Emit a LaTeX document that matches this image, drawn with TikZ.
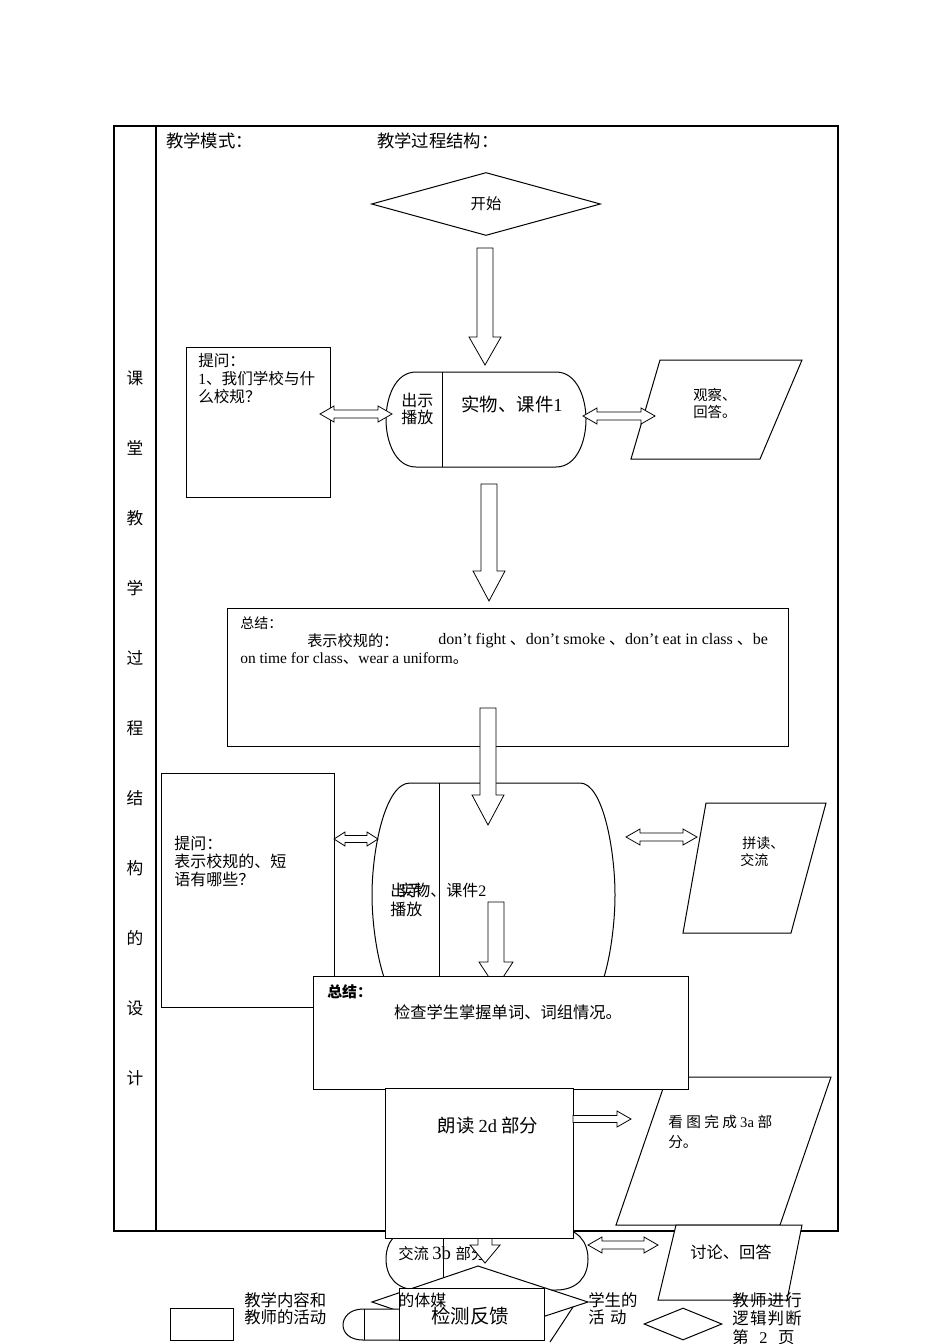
\documentclass[tikz,border=0pt]{standalone}
\usepackage{fontspec}
\setmainfont{Noto Sans CJK SC}
\newfontfamily\lat{Liberation Serif}
\usetikzlibrary{shapes.geometric}
\newcommand\fs[1]{\fontsize{#1pt}{#1pt}\selectfont}
\newcommand\rboxnode[5]{\node[wbox, anchor=north west, minimum width={(#4-#2)*0.75pt}, minimum height={(#5-#3)*0.75pt}] (#1) at (#2,#3) {};}
\newcommand\downarr[6]{\draw[blk] ({#1-#5},#2) -- ({#1+#5},#2) -- ({#1+#5},#3) -- ({#1+#6},#3) -- (#1,#4) -- ({#1-#6},#3) -- ({#1-#5},#3) -- cycle;}
\newcommand\dblarr[6]{\draw[blk] (#1,#3) -- ({#1+#6},{#3-#5}) -- ({#1+#6},{#3-#4}) -- ({#2-#6},{#3-#4}) -- ({#2-#6},{#3-#5}) -- (#2,#3) -- ({#2-#6},{#3+#5}) -- ({#2-#6},{#3+#4}) -- ({#1+#6},{#3+#4}) -- ({#1+#6},{#3+#5}) -- cycle;}
\newcommand\rarr[6]{\draw[blk] (#1,{#3-#4}) -- ({#2-#6},{#3-#4}) -- ({#2-#6},{#3-#5}) -- (#2,#3) -- ({#2-#6},{#3+#5}) -- ({#2-#6},{#3+#4}) -- (#1,{#3+#4}) -- cycle;}
\begin{document}
\begin{tikzpicture}[x=0.75pt, y=-0.75pt,
  ln/.style={line width=0.75pt},
  wbox/.style={draw, fill=white, line width=0.75pt, inner sep=0pt, outer sep=0pt},
  blk/.style={draw, fill=white, line width=0.6pt, line join=miter},
  txt/.style={inner sep=0pt, anchor=west},
  ctxt/.style={inner sep=0pt}]
\useasboundingbox (0,0) rectangle (950,1344);
\fill[white] (0,0) rectangle (950,1344);
% frame
\node[draw, line width=1.4pt, inner sep=0pt, anchor=north west, minimum width={724*0.75pt}, minimum height={1105*0.75pt}] (frame) at (113,125) {};
\coordinate (divtop) at (156,125);
\coordinate (divbot) at (156,1230);
\draw[line width=0.8pt] (divtop) -- (divbot);
\foreach \c [count=\i from 0] in {课,堂,教,学,过,程,结,构,的,设,计}
  \node[ctxt, font=\fs{12.5}] (col\i) at (135,{378+70*\i}) {\c};
\node[txt, font=\fs{13}] (mode) at (166,141) {教学模式：};
\node[txt, font=\fs{13}] (struct) at (377,141) {教学过程结构：};
% start
\node[draw, diamond, line width=0.75pt, inner sep=0pt, minimum width={229*0.75pt}, minimum height={63*0.75pt}, font=\fs{11.5}] (start) at (486,204) {开始};
\downarr{485}{248}{337}{365}{8}{16}
% row 1
\rboxnode{q1}{186}{347}{330}{497}
\node[txt, font=\fs{11.7}] (q1a) at (198,361) {提问：};
\node[txt, font=\fs{11.7}] (q1b) at (198,379) {\lat 1\rmfamily、我们学校与什};
\node[txt, font=\fs{11.7}] (q1c) at (198,397) {么校规？};
\draw[wbox] (416,372) -- (556,372) .. controls (577,372) and (586,398) .. (586,419.5) .. controls (586,441) and (577,467) .. (556,467) -- (416,467) .. controls (395,467) and (386,441) .. (386,419.5) .. controls (386,398) and (395,372) .. (416,372) -- cycle;
\coordinate (s1t) at (442,372);
\coordinate (s1b) at (442,467);
\draw[ln] (s1t) -- (s1b);
\node[txt, font=\fs{12}] (s1a) at (401,400) {出示};
\node[txt, font=\fs{12}] (s1b2) at (401,417) {播放};
\node[ctxt, font=\fs{13.8}] (s1c) at (512,404) {实物、课件\lat 1};
\draw[wbox] (660,360) -- (802,360) -- (760,459) -- (631,459) -- cycle;
\node[txt, font=\fs{10.8}] (obs1) at (693,395) {观察、};
\node[txt, font=\fs{10.8}] (obs2) at (693,412) {回答。};
\dblarr{320}{392}{414}{4}{8}{14}
\dblarr{583}{655}{416}{4}{8}{14}
\downarr{489}{484}{571}{601}{8}{16}
% summary 1
\rboxnode{sum1}{227}{608}{788}{746}
\node[txt, font=\fs{10.5}] (sum1a) at (240,623) {总结：};
\node[txt, font=\fs{11.4}] (sum1b) at (307,641) {表示校规的：};
\node[txt, font=\fs{12}] (sum1c) at (438,641) {\lat don’t fight \rmfamily、\lat don’t smoke \rmfamily、\lat don’t eat in class \rmfamily、\lat be};
\node[txt, font=\fs{11.6}] (sum1d) at (240,659) {\lat on time for class\rmfamily、\lat wear a uniform\rmfamily。};
% row 2
\rboxnode{q2}{161}{773}{334}{1007}
\node[txt, font=\fs{12}] (q2a) at (174,843) {提问：};
\node[txt, font=\fs{12}] (q2b) at (174,861) {表示校规的、短};
\node[txt, font=\fs{12}] (q2c) at (174,879) {语有哪些？};
\draw[wbox] (410,783) -- (580,783) .. controls (603,783) and (615,850) .. (615,895) .. controls (615,940) and (603,1010) .. (580,1010) -- (410,1010) .. controls (385,1010) and (372,940) .. (372,895) .. controls (372,850) and (385,783) .. (410,783) -- cycle;
\coordinate (b2t) at (439,783);
\coordinate (b2b) at (439,1010);
\draw[ln] (b2t) -- (b2b);
\downarr{488}{708}{795}{825}{8}{16}
\node[txt, font=\fs{12}] (b2a) at (390,890) {出示};
\node[txt, font=\fs{12}] (b2c) at (398,890) {实物、课件\lat 2};
\node[txt, font=\fs{12}] (b2d) at (390,909) {播放};
\downarr{496}{902}{962}{988}{8}{17}
\dblarr{334}{378}{839}{3.5}{7}{11}
\draw[wbox] (706,803) -- (826,803) -- (791,933) -- (683,933) -- cycle;
\dblarr{626}{697}{837}{4}{8}{14}
\node[txt, font=\fs{10.5}] (sp1) at (742,843) {拼读、};
\node[txt, font=\fs{10.5}] (sp2) at (740,860) {交流};
% look 3a parallelogram
\draw[wbox] (667,1077) -- (831,1077) -- (780,1225) -- (616,1225) -- cycle;
\node[txt, font=\fs{11}] (lk1) at (668,1122) {看\hspace{2.5pt}图\hspace{2.5pt}完\hspace{2.5pt}成 \lat 3a \rmfamily 部};
\node[txt, font=\fs{11}] (lk2) at (668,1142) {分。};
% summary 2
\rboxnode{sum2}{313}{976}{688}{1089}
\node[txt, font=\fs{11.2}\bfseries] (sum2a) at (327,992) {总结：};
\node[ctxt, font=\fs{12.2}] (sum2b) at (508,1012) {检查学生掌握单词、词组情况。};
% bottom stadium
\draw[wbox] (418,1228) -- (556,1228) .. controls (578,1228) and (588,1242) .. (588,1259) .. controls (588,1276) and (578,1290) .. (556,1290) -- (418,1290) .. controls (396,1290) and (386,1276) .. (386,1259) .. controls (386,1242) and (396,1228) .. (418,1228) -- cycle;
\coordinate (s3t) at (443,1228);
\coordinate (s3b) at (443,1290);
\draw[ln] (s3t) -- (s3b);
\node[txt, font=\fs{11.5}] (s3a) at (398,1254) {交流 \fs{14}\lat 3b \fs{11.5}\rmfamily 部分};
\downarr{485}{1236}{1245}{1263}{7}{15}
% read box
\rboxnode{read}{385}{1088}{573}{1238}
\node[ctxt, font=\fs{13.8}] (readt) at (488,1126) {朗读 \lat 2d \rmfamily 部分};
\rarr{573}{631}{1119}{3.5}{8}{14}
% discuss
\draw[wbox] (676,1225) -- (802,1225) -- (787,1300) -- (658,1300) -- cycle;
\node[ctxt, font=\fs{12.2}] (disc) at (731,1252) {讨论、回答};
\dblarr{588}{658}{1245}{4}{8}{14}
% bottom diamond and legend
\draw[wbox] (478,1266) -- (588,1302) -- (478,1338) -- (372,1302) -- cycle;
\draw[wbox] (399,1309) -- (363,1309) .. controls (350,1309) and (343,1317) .. (343,1325) .. controls (343,1333) and (350,1340) .. (363,1340) -- (399,1340);
\coordinate (s4t) at (364,1309);
\coordinate (s4b) at (364,1340);
\draw[ln] (s4t) -- (s4b);
\coordinate (pg1) at (573,1307);
\coordinate (pg2) at (550,1342);
\draw[ln] (pg1) -- (pg2);
\rboxnode{fb}{399}{1288}{544}{1340}
\node[ctxt, font=\fs{14.6}] (fbt) at (470,1316) {检测反馈};
\node[txt, font=\fs{12}] (media) at (398,1300) {的体媒};
\rboxnode{lgrect}{170}{1308}{233}{1340}
\node[txt, font=\fs{12.3}] (lg1a) at (244,1300) {教学内容和};
\node[txt, font=\fs{12.3}] (lg1b) at (244,1317) {教师的活动};
\node[txt, font=\fs{12.3}] (lg2a) at (588,1300) {学生的};
\node[txt, font=\fs{12.3}] (lg2b) at (588,1317) {活\hspace{4pt}动};
\node[draw, diamond, line width=0.75pt, inner sep=0pt, minimum width={78*0.75pt}, minimum height={32*0.75pt}] (lgdia) at (683,1324) {};
\node[txt, font=\fs{12.3}] (lg3a) at (732,1300) {教\hspace{1pt}师\hspace{1pt}进\hspace{1pt}行};
\node[txt, font=\fs{12.3}] (lg3b) at (732,1318) {逻\hspace{1pt}辑\hspace{1pt}判\hspace{1pt}断};
\node[txt, font=\fs{12.3}] (lg3c) at (732,1337) {第\hspace{8pt}\lat 2\rmfamily\hspace{8pt}页};
\end{tikzpicture}
\end{document}
